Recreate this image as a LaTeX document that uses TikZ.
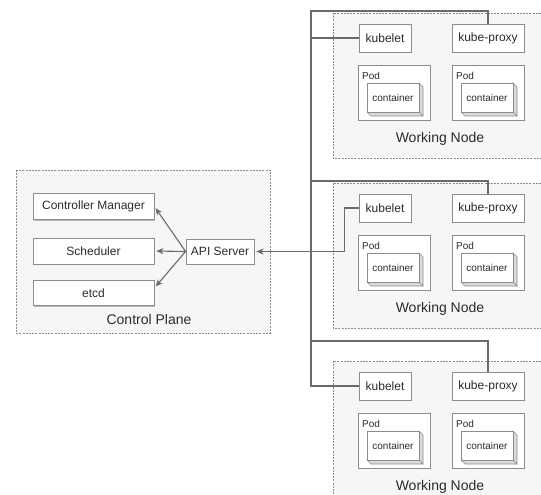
\documentclass[tikz,border=0pt]{standalone}
\usepackage{fontspec}
\setmainfont{Liberation Sans}
\usetikzlibrary{arrows.meta,shadows,calc}
\definecolor{edge}{HTML}{6A6A6A}
\definecolor{boxline}{HTML}{8C8C8C}
\definecolor{groupfill}{HTML}{F6F6F6}
\definecolor{sidefill}{HTML}{DADADA}
\definecolor{txt}{HTML}{2B2B2B}
\begin{document}
\begin{tikzpicture}[x=1pt,y=-1pt,
  group/.style={draw=boxline, dash pattern=on 2pt off 1.2pt, fill=groupfill, line width=0.6pt},
  comp/.style={draw=boxline, fill=white, line width=0.8pt, text=txt, inner sep=0pt,
    font=\fontsize{12}{14}\selectfont,
    drop shadow={shadow xshift=1.2pt, shadow yshift=-1.2pt, opacity=0.25, fill=black}},
  podbox/.style={draw=boxline, fill=white, line width=0.8pt, inner sep=0pt,
    minimum width=72pt, minimum height=55pt,
    drop shadow={shadow xshift=1.2pt, shadow yshift=-1.2pt, opacity=0.25, fill=black}},
  small/.style={text=txt, inner sep=0pt, font=\fontsize{10}{12}\selectfont},
  grouplabel/.style={text=txt, inner sep=0pt, font=\fontsize{14}{16}\selectfont},
  conn/.style={draw=edge, line width=1.1pt},
  arrowconn/.style={conn, -{Stealth[length=7pt,width=6pt,inset=2pt]}, shorten >=2pt},
]
\useasboundingbox (0,0) rectangle (541,495);

% Control plane
\draw[group] (16,170) rectangle (270,333);
\node[grouplabel] (cplabel) at (149,319) {Control Plane};
\node[comp, minimum width=121pt, minimum height=26pt] (cm) at (93.5,206.5) {Controller Manager};
\node[comp, minimum width=121pt, minimum height=26pt] (sched) at (93.5,251) {Scheduler};
\node[comp, minimum width=121pt, minimum height=25pt] (etcd) at (93.5,293) {etcd};
\node[comp, minimum width=68pt, minimum height=25pt] (api) at (220,251.5) {API Server};

\draw[arrowconn] (api.west) -- (cm.east);
\draw[arrowconn] (api.west) -- (sched.east);
\draw[arrowconn] (api.west) -- ($(etcd.east)+(0,-5)$);

% Working nodes
\foreach \t/\i in {13/1,183/2,361/3}{
  \draw[group] (333,\t) rectangle (548,\t+145);
  \node[grouplabel] (wnlabel\i) at (440,\t+126) {Working Node};
  \node[comp, minimum width=52pt, minimum height=28pt] (kl\i) at (385,\t+25) {kubelet};
  \node[comp, minimum width=72pt, minimum height=28pt] (kp\i) at (488,\t+25) {kube-proxy};
  \foreach \px/\j in {358/a,452/b}{
    \node[podbox] (pod\i\j) at (\px+36,\t+79.5) {};
    \node[small, anchor=west] (podlabel\i\j) at (\px+4,\t+63) {Pod};
    % container drawn as a small box with depth
    \filldraw[draw=boxline, fill=sidefill, line width=0.6pt]
      (\px+61,\t+70) -- (\px+65,\t+74) -- (\px+65,\t+103) -- (\px+61,\t+99) -- cycle;
    \filldraw[draw=boxline, fill=sidefill, line width=0.6pt]
      (\px+9,\t+99) -- (\px+61,\t+99) -- (\px+65,\t+103) -- (\px+13,\t+103) -- cycle;
    \node[small, draw=boxline, fill=white, line width=0.6pt,
      minimum width=52pt, minimum height=29pt] (ctr\i\j) at (\px+35,\t+84.5) {container};
  }
}

% Connections between the nodes and the API server
\coordinate (trunktop) at (311,11);
\coordinate (trunkbot) at (311,386);
\draw[conn] (kp1.north) |- (trunktop) -- (trunkbot) -- (kl3.west);
\draw[conn] (kl1.west) -- (kl1.west -| trunktop);
\draw[conn] (kp2.north) |- (311,181);
\draw[conn] (kp3.north) |- (311,341);
\draw[arrowconn] (kl2.west) -- ++(-14,0) |- (api.east);
\end{tikzpicture}
\end{document}
